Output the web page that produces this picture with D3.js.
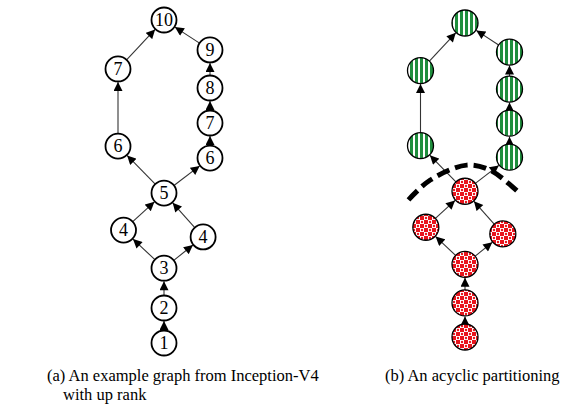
<!DOCTYPE html>
<html>
<head>
<meta charset="utf-8">
<script src="https://cdn.jsdelivr.net/npm/d3@7"></script>
<style>
  body { margin: 0; background: #fff; }
</style>
</head>
<body>
<svg id="fig"></svg>
<script>
const WIDTH = 574;
const HEIGHT = 406;
const SERIF = "'Liberation Serif', 'Times New Roman', Times, 'DejaVu Serif', serif";

// nodes: up rank label, lane (-1 left .. 1 right), row (bottom = 0)
const nodeIds    = ["n1", "n2", "n3", "n4a", "n4b", "n5", "n6a", "n6b", "n7a", "n7b", "n8", "n9", "n10"];
const nodeRanks  = [1, 2, 3, 4, 4, 5, 6, 6, 7, 7, 8, 9, 10];
const nodeLanes  = [0, 0, 0, -0.88, 0.85, 0, -1, 1, -1, 1, 1, 1, 0];
const nodeRows   = [0, 1.03, 2.2, 3.32, 3.12, 4.41, 5.79, 5.44, 8.06, 6.47, 7.5, 8.62, 9.5];
// partition: 0 = lower (red), 1 = upper (green)
const nodePart   = [0, 0, 0, 0, 0, 0, 1, 1, 1, 1, 1, 1, 1];

const edgeFrom = ["n1", "n2", "n3", "n3", "n4a", "n4b", "n5", "n5", "n6a", "n6b", "n7b", "n8", "n7a", "n9"];
const edgeTo   = ["n2", "n3", "n4a", "n4b", "n5", "n5", "n6a", "n6b", "n7a", "n7b", "n8", "n9", "n10", "n10"];

// dashed cut line (lane, row)
const cutLanes = [-1.27, -0.78, 0.04, 0.56, 1.07, 1.22];
const cutRows  = [4.15, 4.75, 5.2, 5.05, 4.54, 4.36];

const captions = [
  ["(a) An example graph from Inception-V4", "with up rank"],
  ["(b) An acyclic partitioning"]
];

const svg = d3.select('#fig')
  .attr('width', WIDTH)
  .attr('height', HEIGHT);

const defs = svg.append('defs');

defs.append('marker')
  .attr('id', 'arrow')
  .attr('viewBox', '0 0 10 10')
  .attr('refX', 10)
  .attr('refY', 5)
  .attr('markerUnits', 'userSpaceOnUse')
  .attr('markerWidth', 10)
  .attr('markerHeight', 9)
  .attr('orient', 'auto')
  .append('path')
  .attr('d', 'M0,0 L10,5 L0,10 Z')
  .attr('fill', '#000');

// green vertical stripes
let stripes = defs.append('pattern')
  .attr('id', 'stripes')
  .attr('patternUnits', 'userSpaceOnUse')
  .attr('width', 5)
  .attr('height', 5);
stripes.append('rect').attr('width', 5).attr('height', 5).attr('fill', '#1f8e3d');
stripes.append('rect').attr('x', 3).attr('width', 2).attr('height', 5).attr('fill', '#fff');

// red checker with dots
let checker = defs.append('pattern')
  .attr('id', 'checker')
  .attr('patternUnits', 'userSpaceOnUse')
  .attr('width', 8)
  .attr('height', 8);
checker.append('rect').attr('width', 8).attr('height', 8).attr('fill', '#e8141c');
checker.append('rect').attr('x', 0).attr('y', 0).attr('width', 4).attr('height', 4).attr('fill', '#fff');
checker.append('rect').attr('x', 4).attr('y', 4).attr('width', 4).attr('height', 4).attr('fill', '#fff');
checker.append('circle').attr('cx', 2).attr('cy', 2).attr('r', 1.2).attr('fill', '#e8141c');
checker.append('circle').attr('cx', 6).attr('cy', 6).attr('r', 1.2).attr('fill', '#e8141c');

const nodes = nodeIds.map((id, i) => ({id: id, rank: nodeRanks[i], lane: nodeLanes[i], row: nodeRows[i], part: nodePart[i]}));
const byId = {};
nodes.forEach(d => { byId[d.id] = d; });
const edges = edgeFrom.map((f, i) => ({source: byId[f], target: byId[edgeTo[i]]}));

const panels = [
  {cx: 164, laneHalf: 46, yRange: [343, 20], r: 12.5, colored: false, captionX: 47},
  {cx: 465, laneHalf: 44.5, yRange: [337, 23], r: 13, colored: true, captionX: 385}
];

panels.forEach((p, pi) => {
  const x = d3.scaleLinear().domain([-1, 1]).range([p.cx - p.laneHalf, p.cx + p.laneHalf]);
  const y = d3.scaleLinear().domain([0, 9.5]).range(p.yRange);

  let g = svg.append('g');

  // Edges, trimmed to circle borders
  g.selectAll('line.edge')
    .data(edges)
    .enter()
    .append('line')
    .attr('class', 'edge')
    .each(function(d) {
      let x1 = x(d.source.lane), y1 = y(d.source.row);
      let x2 = x(d.target.lane), y2 = y(d.target.row);
      let len = Math.hypot(x2 - x1, y2 - y1);
      let ux = (x2 - x1) / len, uy = (y2 - y1) / len;
      d3.select(this)
        .attr('x1', x1 + ux * p.r)
        .attr('y1', y1 + uy * p.r)
        .attr('x2', x2 - ux * (p.r + 0.5))
        .attr('y2', y2 - uy * (p.r + 0.5));
    })
    .attr('stroke', '#333')
    .attr('stroke-width', 1.1)
    .attr('marker-end', 'url(#arrow)');

  // Nodes
  g.selectAll('circle.node')
    .data(nodes)
    .enter()
    .append('circle')
    .attr('class', 'node')
    .attr('cx', d => x(d.lane))
    .attr('cy', d => y(d.row))
    .attr('r', p.r)
    .attr('fill', d => p.colored ? (d.part ? 'url(#stripes)' : 'url(#checker)') : '#fff')
    .attr('stroke', '#000')
    .attr('stroke-width', p.colored ? 1.3 : 1.8);

  if (!p.colored) {
    g.selectAll('text.rank')
      .data(nodes)
      .enter()
      .append('text')
      .attr('class', 'rank')
      .attr('x', d => x(d.lane))
      .attr('y', d => y(d.row) + 6)
      .attr('text-anchor', 'middle')
      .attr('font-family', SERIF)
      .attr('font-size', 18)
      .text(d => d.rank);
  } else {
    // the cut between the two partitions
    const cut = cutLanes.map((l, i) => [x(l), y(cutRows[i])]);
    g.append('path')
      .attr('d', d3.line().curve(d3.curveCatmullRom)(cut))
      .attr('fill', 'none')
      .attr('stroke', '#000')
      .attr('stroke-width', 5)
      .attr('stroke-dasharray', '13 6');
  }

  // Caption
  g.selectAll('text.caption')
    .data(captions[pi])
    .enter()
    .append('text')
    .attr('class', 'caption')
    .attr('x', (d, i) => p.captionX + (i ? 16 : 0))
    .attr('y', (d, i) => 381 + i * 19)
    .attr('font-family', SERIF)
    .attr('font-size', 16.5)
    .text(d => d);
});
</script>
</body>
</html>
